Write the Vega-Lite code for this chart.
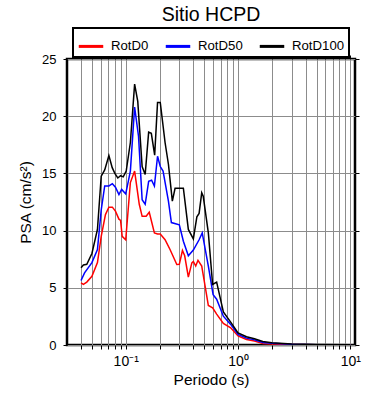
{
  "$schema": "https://vega.github.io/schema/vega-lite/v6.json",
  "width": 288,
  "height": 286,
  "autosize": "none",
  "padding": {"left": 67, "top": 59, "right": 35, "bottom": 55},
  "background": "white",
  "config": {
    "view": {"stroke": "black", "strokeWidth": 2.5},
    "font": "Liberation Sans",
    "legend": {"strokeWidth": 2}
  },
  "title": {
    "text": "Sitio HCPD",
    "fontSize": 19.5,
    "fontWeight": "normal",
    "font": "Liberation Sans",
    "color": "black",
    "offset": 0,
    "dy": -2
  },
  "data": {
    "values": [
      {"T": 0.040, "PSA": 5.43, "comp": "RotD0"},
      {"T": 0.042, "PSA": 5.3, "comp": "RotD0"},
      {"T": 0.045, "PSA": 5.5, "comp": "RotD0"},
      {"T": 0.050, "PSA": 6.0, "comp": "RotD0"},
      {"T": 0.056, "PSA": 7.2, "comp": "RotD0"},
      {"T": 0.0605, "PSA": 9.5, "comp": "RotD0"},
      {"T": 0.066, "PSA": 11.4, "comp": "RotD0"},
      {"T": 0.0708, "PSA": 12.05, "comp": "RotD0"},
      {"T": 0.076, "PSA": 12.05, "comp": "RotD0"},
      {"T": 0.081, "PSA": 11.7, "comp": "RotD0"},
      {"T": 0.087, "PSA": 11.0, "comp": "RotD0"},
      {"T": 0.090, "PSA": 10.9, "comp": "RotD0"},
      {"T": 0.093, "PSA": 9.5, "comp": "RotD0"},
      {"T": 0.1, "PSA": 9.2, "comp": "RotD0"},
      {"T": 0.110, "PSA": 14.2, "comp": "RotD0"},
      {"T": 0.120, "PSA": 15.2, "comp": "RotD0"},
      {"T": 0.132, "PSA": 12.3, "comp": "RotD0"},
      {"T": 0.140, "PSA": 11.25, "comp": "RotD0"},
      {"T": 0.152, "PSA": 11.25, "comp": "RotD0"},
      {"T": 0.162, "PSA": 11.6, "comp": "RotD0"},
      {"T": 0.180, "PSA": 9.8, "comp": "RotD0"},
      {"T": 0.192, "PSA": 9.7, "comp": "RotD0"},
      {"T": 0.203, "PSA": 9.7, "comp": "RotD0"},
      {"T": 0.224, "PSA": 9.2, "comp": "RotD0"},
      {"T": 0.248, "PSA": 8.35, "comp": "RotD0"},
      {"T": 0.285, "PSA": 7.03, "comp": "RotD0"},
      {"T": 0.30, "PSA": 7.05, "comp": "RotD0"},
      {"T": 0.32, "PSA": 8.26, "comp": "RotD0"},
      {"T": 0.335, "PSA": 7.8, "comp": "RotD0"},
      {"T": 0.361, "PSA": 5.93, "comp": "RotD0"},
      {"T": 0.388, "PSA": 7.18, "comp": "RotD0"},
      {"T": 0.40, "PSA": 7.3, "comp": "RotD0"},
      {"T": 0.42, "PSA": 6.9, "comp": "RotD0"},
      {"T": 0.44, "PSA": 7.4, "comp": "RotD0"},
      {"T": 0.475, "PSA": 6.9, "comp": "RotD0"},
      {"T": 0.51, "PSA": 5.1, "comp": "RotD0"},
      {"T": 0.544, "PSA": 3.45, "comp": "RotD0"},
      {"T": 0.594, "PSA": 3.25, "comp": "RotD0"},
      {"T": 0.645, "PSA": 2.7, "comp": "RotD0"},
      {"T": 0.74, "PSA": 1.88, "comp": "RotD0"},
      {"T": 0.86, "PSA": 1.5, "comp": "RotD0"},
      {"T": 1.0, "PSA": 0.79, "comp": "RotD0"},
      {"T": 1.19, "PSA": 0.48, "comp": "RotD0"},
      {"T": 1.4, "PSA": 0.35, "comp": "RotD0"},
      {"T": 1.66, "PSA": 0.12, "comp": "RotD0"},
      {"T": 2.0, "PSA": 0.09, "comp": "RotD0"},
      {"T": 3.0, "PSA": 0.05, "comp": "RotD0"},
      {"T": 5.0, "PSA": 0.02, "comp": "RotD0"},
      {"T": 10.0, "PSA": 0.01, "comp": "RotD0"},

      {"T": 0.040, "PSA": 5.64, "comp": "RotD50"},
      {"T": 0.043, "PSA": 6.3, "comp": "RotD50"},
      {"T": 0.050, "PSA": 7.2, "comp": "RotD50"},
      {"T": 0.056, "PSA": 8.35, "comp": "RotD50"},
      {"T": 0.0605, "PSA": 11.8, "comp": "RotD50"},
      {"T": 0.065, "PSA": 13.9, "comp": "RotD50"},
      {"T": 0.0708, "PSA": 13.9, "comp": "RotD50"},
      {"T": 0.076, "PSA": 14.1, "comp": "RotD50"},
      {"T": 0.081, "PSA": 13.8, "comp": "RotD50"},
      {"T": 0.087, "PSA": 13.15, "comp": "RotD50"},
      {"T": 0.092, "PSA": 13.6, "comp": "RotD50"},
      {"T": 0.1, "PSA": 13.2, "comp": "RotD50"},
      {"T": 0.110, "PSA": 15.2, "comp": "RotD50"},
      {"T": 0.120, "PSA": 20.8, "comp": "RotD50"},
      {"T": 0.130, "PSA": 18.25, "comp": "RotD50"},
      {"T": 0.140, "PSA": 12.7, "comp": "RotD50"},
      {"T": 0.149, "PSA": 12.3, "comp": "RotD50"},
      {"T": 0.160, "PSA": 14.3, "comp": "RotD50"},
      {"T": 0.170, "PSA": 14.4, "comp": "RotD50"},
      {"T": 0.180, "PSA": 13.9, "comp": "RotD50"},
      {"T": 0.192, "PSA": 16.5, "comp": "RotD50"},
      {"T": 0.203, "PSA": 15.6, "comp": "RotD50"},
      {"T": 0.215, "PSA": 15.2, "comp": "RotD50"},
      {"T": 0.240, "PSA": 12.57, "comp": "RotD50"},
      {"T": 0.255, "PSA": 10.7, "comp": "RotD50"},
      {"T": 0.300, "PSA": 10.5, "comp": "RotD50"},
      {"T": 0.326, "PSA": 9.07, "comp": "RotD50"},
      {"T": 0.361, "PSA": 7.8, "comp": "RotD50"},
      {"T": 0.400, "PSA": 8.3, "comp": "RotD50"},
      {"T": 0.45, "PSA": 9.2, "comp": "RotD50"},
      {"T": 0.48, "PSA": 9.8, "comp": "RotD50"},
      {"T": 0.544, "PSA": 6.9, "comp": "RotD50"},
      {"T": 0.60, "PSA": 4.4, "comp": "RotD50"},
      {"T": 0.645, "PSA": 4.0, "comp": "RotD50"},
      {"T": 0.74, "PSA": 2.52, "comp": "RotD50"},
      {"T": 0.86, "PSA": 1.8, "comp": "RotD50"},
      {"T": 1.0, "PSA": 0.92, "comp": "RotD50"},
      {"T": 1.19, "PSA": 0.6, "comp": "RotD50"},
      {"T": 1.4, "PSA": 0.45, "comp": "RotD50"},
      {"T": 1.66, "PSA": 0.22, "comp": "RotD50"},
      {"T": 2.0, "PSA": 0.15, "comp": "RotD50"},
      {"T": 3.0, "PSA": 0.07, "comp": "RotD50"},
      {"T": 5.0, "PSA": 0.03, "comp": "RotD50"},
      {"T": 10.0, "PSA": 0.01, "comp": "RotD50"},

      {"T": 0.040, "PSA": 6.75, "comp": "RotD100"},
      {"T": 0.042, "PSA": 7.0, "comp": "RotD100"},
      {"T": 0.045, "PSA": 7.05, "comp": "RotD100"},
      {"T": 0.050, "PSA": 8.0, "comp": "RotD100"},
      {"T": 0.056, "PSA": 10.1, "comp": "RotD100"},
      {"T": 0.0605, "PSA": 14.76, "comp": "RotD100"},
      {"T": 0.065, "PSA": 15.3, "comp": "RotD100"},
      {"T": 0.0708, "PSA": 16.56, "comp": "RotD100"},
      {"T": 0.0758, "PSA": 15.5, "comp": "RotD100"},
      {"T": 0.080, "PSA": 15.0, "comp": "RotD100"},
      {"T": 0.085, "PSA": 14.6, "comp": "RotD100"},
      {"T": 0.090, "PSA": 14.8, "comp": "RotD100"},
      {"T": 0.095, "PSA": 14.7, "comp": "RotD100"},
      {"T": 0.101, "PSA": 15.2, "comp": "RotD100"},
      {"T": 0.110, "PSA": 17.7, "comp": "RotD100"},
      {"T": 0.120, "PSA": 22.8, "comp": "RotD100"},
      {"T": 0.128, "PSA": 21.3, "comp": "RotD100"},
      {"T": 0.140, "PSA": 15.6, "comp": "RotD100"},
      {"T": 0.149, "PSA": 14.9, "comp": "RotD100"},
      {"T": 0.160, "PSA": 18.6, "comp": "RotD100"},
      {"T": 0.169, "PSA": 18.5, "comp": "RotD100"},
      {"T": 0.181, "PSA": 16.6, "comp": "RotD100"},
      {"T": 0.192, "PSA": 21.2, "comp": "RotD100"},
      {"T": 0.203, "PSA": 21.2, "comp": "RotD100"},
      {"T": 0.224, "PSA": 17.7, "comp": "RotD100"},
      {"T": 0.240, "PSA": 15.8, "comp": "RotD100"},
      {"T": 0.260, "PSA": 12.57, "comp": "RotD100"},
      {"T": 0.275, "PSA": 13.7, "comp": "RotD100"},
      {"T": 0.326, "PSA": 13.7, "comp": "RotD100"},
      {"T": 0.361, "PSA": 10.1, "comp": "RotD100"},
      {"T": 0.400, "PSA": 9.28, "comp": "RotD100"},
      {"T": 0.43, "PSA": 11.2, "comp": "RotD100"},
      {"T": 0.45, "PSA": 11.5, "comp": "RotD100"},
      {"T": 0.475, "PSA": 13.3, "comp": "RotD100"},
      {"T": 0.49, "PSA": 13.0, "comp": "RotD100"},
      {"T": 0.544, "PSA": 9.8, "comp": "RotD100"},
      {"T": 0.594, "PSA": 5.29, "comp": "RotD100"},
      {"T": 0.645, "PSA": 5.5, "comp": "RotD100"},
      {"T": 0.74, "PSA": 2.9, "comp": "RotD100"},
      {"T": 0.86, "PSA": 2.0, "comp": "RotD100"},
      {"T": 1.0, "PSA": 1.06, "comp": "RotD100"},
      {"T": 1.19, "PSA": 0.72, "comp": "RotD100"},
      {"T": 1.4, "PSA": 0.55, "comp": "RotD100"},
      {"T": 1.66, "PSA": 0.3, "comp": "RotD100"},
      {"T": 2.0, "PSA": 0.2, "comp": "RotD100"},
      {"T": 3.0, "PSA": 0.09, "comp": "RotD100"},
      {"T": 5.0, "PSA": 0.04, "comp": "RotD100"},
      {"T": 10.0, "PSA": 0.02, "comp": "RotD100"}
    ]
  },
  "layer": [
    {
      "mark": {"type": "line", "strokeWidth": 1.5, "clip": true},
      "encoding": {
        "x": {
          "field": "T", "type": "quantitative",
          "scale": {"type": "log", "domain": [0.03, 11], "nice": false},
          "axis": {
            "orient": "bottom",
            "title": "Periodo (s)",
            "titleFontSize": 15.5, "titleFontWeight": "normal", "titleColor": "black", "titlePadding": 4,
            "values": [0.04,0.05,0.06,0.07,0.08,0.09,0.1,0.2,0.3,0.4,0.5,0.6,0.7,0.8,0.9,1,2,3,4,5,6,7,8,9,10],
            "labelExpr": "datum.value == 0.1 ? '10⁻¹' : (datum.value == 1 ? '10⁰' : (datum.value == 10 ? '10¹' : ''))",
            "labelFontSize": 14, "labelColor": "black", "labelPadding": 5, "labelFlush": false, "labelOverlap": false,
            "grid": true, "gridColor": "#8c8c8c", "gridWidth": 1,
            "ticks": true, "tickSize": 4, "tickColor": "black", "tickWidth": 1,
            "domain": false
          }
        },
        "y": {
          "field": "PSA", "type": "quantitative",
          "scale": {"domain": [0, 25], "nice": false},
          "axis": {
            "orient": "left",
            "title": "PSA (cm/s²)",
            "titleFontSize": 15.5, "titleFontWeight": "normal", "titleColor": "black", "titlePadding": 8,
            "values": [0, 5, 10, 15, 20, 25],
            "labelFontSize": 13, "labelColor": "black", "labelPadding": 7,
            "grid": true, "gridColor": "#8c8c8c", "gridWidth": 1,
            "ticks": true, "tickSize": 4, "tickColor": "black", "tickWidth": 1,
            "domain": false
          }
        },
        "color": {
          "field": "comp", "type": "nominal",
          "scale": {"domain": ["RotD0", "RotD50", "RotD100"], "range": ["#ff0000", "#0000ff", "#000000"]},
          "legend": {
            "title": null,
            "orient": "none",
            "legendX": 6,
            "legendY": -31,
            "direction": "horizontal",
            "symbolType": "stroke",
            "symbolSize": 600,
            "symbolStrokeWidth": 3,
            "labelFontSize": 13.2,
            "labelColor": "black",
            "labelOffset": 6,
            "columnPadding": 10,
            "padding": 4,
            "strokeColor": "black",
            "fillColor": "white"
          }
        }
      }
    },
    {
      "mark": {"type": "line", "opacity": 0, "clip": true},
      "encoding": {
        "x": {
          "field": "T", "type": "quantitative",
          "axis": {
            "orient": "top", "title": null, "labels": false, "grid": false, "domain": false,
            "values": [0.04,0.05,0.06,0.07,0.08,0.09,0.1,0.2,0.3,0.4,0.5,0.6,0.7,0.8,0.9,1,2,3,4,5,6,7,8,9,10],
            "ticks": true, "tickSize": 4, "tickColor": "black", "tickWidth": 1
          }
        },
        "y": {
          "field": "PSA", "type": "quantitative",
          "axis": {
            "orient": "right", "title": null, "labels": false, "grid": false, "domain": false,
            "values": [0, 5, 10, 15, 20, 25],
            "ticks": true, "tickSize": 4, "tickColor": "black", "tickWidth": 1
          }
        },
        "detail": {"field": "comp"}
      }
    }
  ],
  "resolve": {"axis": {"x": "independent", "y": "independent"}}
}
